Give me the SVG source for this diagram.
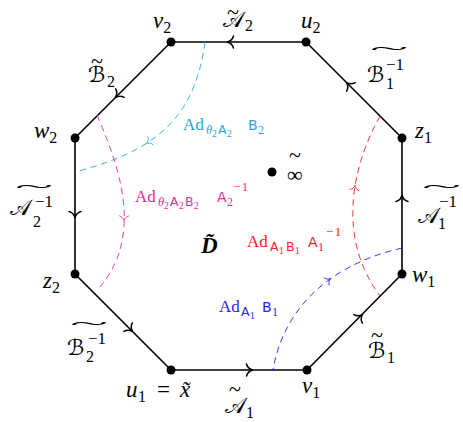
<svg xmlns="http://www.w3.org/2000/svg" width="463" height="422" viewBox="0 0 463 422">
<defs>
<style>
.e{fill:none;stroke:#000;stroke-width:1.6;stroke-linejoin:round}
.ah{fill:none;stroke:#000;stroke-width:1.5;stroke-linecap:round}
.dh{fill:none;stroke-width:1.1;stroke-linecap:round}
.d{fill:none;stroke-width:0.9;stroke-dasharray:6.5 4.5}
.m{font-family:"Liberation Serif",serif;font-style:italic;font-size:23px;fill:#000}
.c{font-family:"Liberation Serif","DejaVu Serif","DejaVu Sans",serif;font-style:normal;font-size:22px}
.n{font-family:"Liberation Serif",serif;font-style:normal;font-size:16px}
.sp{font-family:"Liberation Serif",serif;font-style:normal;font-size:17px}
.tw{font-family:"Liberation Serif",serif;font-style:normal;font-size:16px}
.lb{font-family:"Liberation Serif",serif;font-size:17px}
.sf{font-family:"DejaVu Sans","Liberation Sans",sans-serif}
.th{font-family:"Liberation Serif",serif;font-style:italic}
.scy{stroke:#29a8e0}.fcy{fill:#29a8e0}
.smg{stroke:#ea2b94}.fmg{fill:#ea2b94}
.srd{stroke:#ff2020}.frd{fill:#ff2020}
.sbl{stroke:#2424ee}.fbl{fill:#2424ee}
</style>
<path id="arr" d="M-5.5,-6 C-4.6,-2.6 -2,-0.7 1,0 C-2,0.7 -4.6,2.6 -5.5,6"/>
</defs>
<g id="connectors">
<path class="e" d="M171,42 L306,42 L402,138 L402,274 L307,370 L171,370 L75,274 L75,138 Z"/>
<use href="#arr" class="ah" transform="translate(228,42) rotate(180)"/>
<use href="#arr" class="ah" transform="translate(116,97) rotate(135)"/>
<use href="#arr" class="ah" transform="translate(347,83) rotate(225)"/>
<use href="#arr" class="ah" transform="translate(402,196) rotate(-90)"/>
<use href="#arr" class="ah" transform="translate(362,315) rotate(-45)"/>
<use href="#arr" class="ah" transform="translate(252,370)"/>
<use href="#arr" class="ah" transform="translate(132,331) rotate(45)"/>
<use href="#arr" class="ah" transform="translate(75,217) rotate(90)"/>
<path class="d scy" d="M205,42 C195,115 160,150 75,172"/>
<use href="#arr" class="dh scy" transform="translate(147,143) rotate(147) scale(0.75)"/>
<path class="d smg" d="M97,115 C116,160 146,232 100,287"/>
<use href="#arr" class="dh smg" transform="translate(124,220) rotate(91) scale(0.75)"/>
<path class="d srd" d="M380,116 C350,170 338,240 380,296"/>
<use href="#arr" class="dh srd" transform="translate(355,186) rotate(-81) scale(0.75)"/>
<path class="d sbl" d="M402,248 C340,262 285,300 273,370"/>
<use href="#arr" class="dh sbl" transform="translate(330,279) rotate(-35.6) scale(0.75)"/>
</g>
<g id="v2"><circle cx="171" cy="42" r="4.5"/><text class="m" x="153" y="28">v<tspan class="n" dy="5">2</tspan></text></g>
<g id="u2"><circle cx="306" cy="42" r="4.5"/><text class="m" x="301" y="28">u<tspan class="n" dy="5">2</tspan></text></g>
<g id="z1"><circle cx="402" cy="138" r="4.5"/><text class="m" x="415" y="138">z<tspan class="n" dy="5">1</tspan></text></g>
<g id="w1"><circle cx="402" cy="274" r="4.5"/><text class="m" x="412" y="282">w<tspan class="n" dy="5">1</tspan></text></g>
<g id="v1"><circle cx="307" cy="370" r="4.5"/><text class="m" x="302" y="393">v<tspan class="n" dy="5">1</tspan></text></g>
<g id="u1"><circle cx="171" cy="370" r="4.5"/><text class="m" x="126" y="397">u<tspan class="n" x="138" y="402">1</tspan><tspan font-style="normal" x="157" y="397">=</tspan><tspan x="180" y="397">x̃</tspan></text></g>
<g id="z2"><circle cx="75" cy="274" r="4.5"/><text class="m" x="43" y="288">z<tspan class="n" dy="5">2</tspan></text></g>
<g id="w2"><circle cx="75" cy="138" r="4.5"/><text class="m" x="34" y="138">w<tspan class="n" dy="5">2</tspan></text></g>
<g id="inf"><circle cx="272" cy="172" r="4.5"/><text class="c" font-size="28" x="289 287" y="162 182">~∞</text></g>
<g id="D"><text class="m" font-weight="bold" font-size="24" x="201" y="253">D̃</text></g>
<g id="lA2"><text class="m"><tspan class="c" font-size="20" x="227 223" y="18.5 27">~𝒜</tspan><tspan class="n" x="245" y="31">2</tspan></text></g>
<g id="lB2"><text class="m"><tspan class="c" x="91 88" y="68 82">~ℬ</tspan><tspan class="n" x="107" y="87">2</tspan></text></g>
<g id="lB1i"><text class="m"><tspan class="tw" x="370" y="54" textLength="38" lengthAdjust="spacingAndGlyphs">~</tspan><tspan class="c" x="367" y="82">ℬ</tspan><tspan class="sp" x="386" y="70">−1</tspan><tspan class="n" x="386" y="89">1</tspan></text></g>
<g id="lA1i"><text class="m"><tspan class="tw" x="422" y="192" textLength="39" lengthAdjust="spacingAndGlyphs">~</tspan><tspan class="c" x="418" y="223">𝒜</tspan><tspan class="sp" x="439" y="207">−1</tspan><tspan class="n" x="438" y="229">1</tspan></text></g>
<g id="lB1"><text class="m"><tspan class="c" x="371 368" y="342 358">~ℬ</tspan><tspan class="n" x="387" y="363">1</tspan></text></g>
<g id="lA1"><text class="m"><tspan class="c" x="229 225" y="396 413">~𝒜</tspan><tspan class="n" x="246" y="418">1</tspan></text></g>
<g id="lB2i"><text class="m"><tspan class="tw" x="70" y="329" textLength="38" lengthAdjust="spacingAndGlyphs">~</tspan><tspan class="c" x="67" y="355">ℬ</tspan><tspan class="sp" x="88" y="344">−1</tspan><tspan class="n" x="86" y="362">2</tspan></text></g>
<g id="lA2i"><text class="m"><tspan class="tw" x="15" y="192" textLength="38" lengthAdjust="spacingAndGlyphs">~</tspan><tspan class="c" x="10" y="215">𝒜</tspan><tspan class="sp" x="35" y="207">−1</tspan><tspan class="n" x="33" y="227">2</tspan></text></g>
<g id="labCy"><text class="lb fcy" x="183" y="130">Ad<tspan class="th" font-size="12.5" x="206" y="134">θ</tspan><tspan font-size="9.5" x="212" y="137">2</tspan><tspan class="sf" font-size="12.5" x="218" y="134">A</tspan><tspan font-size="9.5" x="227" y="137">2</tspan><tspan class="sf" font-size="14" x="248" y="130">B</tspan><tspan font-size="12" x="258" y="134">2</tspan></text></g>
<g id="labMg"><text class="lb fmg" x="135" y="202">Ad<tspan class="th" font-size="12.5" x="158" y="206">θ</tspan><tspan font-size="9.5" x="164" y="209">2</tspan><tspan class="sf" font-size="12.5" x="170" y="206">A</tspan><tspan font-size="9.5" x="179" y="209">2</tspan><tspan class="sf" font-size="12.5" x="185" y="206">B</tspan><tspan font-size="9.5" x="194" y="209">2</tspan><tspan class="sf" font-size="14" x="217" y="202">A</tspan><tspan font-size="12" x="227" y="206">2</tspan><tspan font-size="13" letter-spacing="1.5" x="233" y="191">−1</tspan></text></g>
<g id="labRd"><text class="lb frd" x="247" y="247">Ad<tspan class="sf" font-size="12.5" x="270" y="251">A</tspan><tspan font-size="9.5" x="279" y="254">1</tspan><tspan class="sf" font-size="12.5" x="286" y="251">B</tspan><tspan font-size="9.5" x="295" y="254">1</tspan><tspan class="sf" font-size="14" x="308" y="247">A</tspan><tspan font-size="12" x="318" y="251">1</tspan><tspan font-size="13" letter-spacing="1.5" x="326" y="236">−1</tspan></text></g>
<g id="labBl"><text class="lb fbl" x="219" y="312">Ad<tspan class="sf" font-size="12.5" x="241" y="316">A</tspan><tspan font-size="9.5" x="250" y="319">1</tspan><tspan class="sf" font-size="14" x="262" y="312">B</tspan><tspan font-size="12" x="272" y="316">1</tspan></text></g>
</svg>
